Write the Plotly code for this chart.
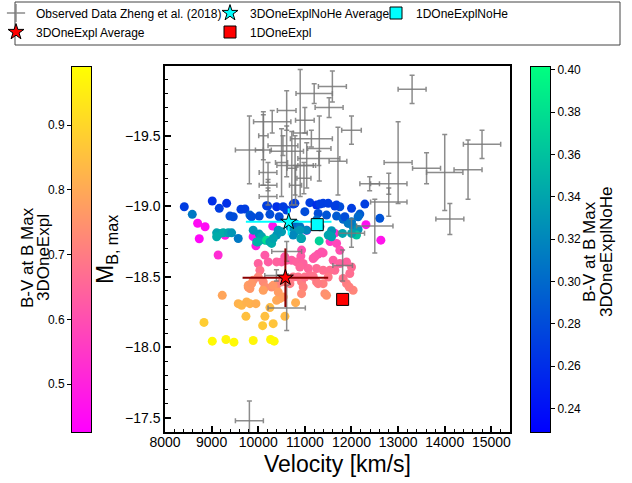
import numpy as np
import plotly.graph_objects as go

W, H = 632, 483

# ---------------- data ----------------
# Observed data (Zheng et al. 2018): velocity, M_B,max, errors
obs_v = [13300, 11590, 11200, 10900, 11520, 10610, 10300, 9810, 10110, 11000,
         12000, 11140, 11310, 10530, 10610, 11710, 11040, 10210, 10210, 10210,
         10800, 10980, 13000, 12800, 12800, 13610, 14000, 14500, 14800, 14110,
         12500, 12000, 11810, 10610, 10390, 10610, 9810, 11300, 10790, 10500,
         10720, 12390, 10110]
obs_m = [-19.83, -19.85, -19.80, -19.52, -19.70, -19.68, -19.60, -19.40, -19.40, -19.61,
         -19.54, -19.48, -19.41, -19.43, -19.39, -19.32, -19.29, -19.24, -19.15, -19.07,
         -19.15, -19.20, -19.31, -19.16, -19.03, -19.27, -19.24, -19.26, -19.44, -18.91,
         -18.86, -18.81, -18.58, -18.68, -18.51, -18.28, -17.48, -19.34, -19.29, -19.31,
         -19.27, -19.16, -19.50]
obs_verr = [300, 300, 390, 150, 300, 200, 400, 300, 170, 200,
            210, 450, 250, 320, 360, 190, 190, 190, 190, 190,
            130, 150, 300, 390, 390, 300, 390, 300, 400, 300,
            390, 280, 210, 320, 250, 400, 300, 450, 390, 130,
            100, 210, 100]
obs_merr = [0.10, 0.11, 0.07, 0.45, 0.07, 0.14, 0.08, 0.24, 0.25, 0.09,
            0.10, 0.06, 0.23, 0.07, 0.18, 0.24, 0.16, 0.07, 0.04, 0.06,
            0.14, 0.11, 0.29, 0.075, 0.10, 0.11, 0.27, 0.21, 0.10, 0.11,
            0.19, 0.10, 0.11, 0.07, 0.04, 0.16, 0.14, 0.05, 0.21, 0.24,
            0.26, 0.05, 0.17]

# 3DOneExpl models: velocity, M_B,max, B-V at B max
he_v = [8700, 8860, 8735, 9140, 9290, 9890, 9950, 10310, 11040, 11640, 12310, 12630, 11540,
        10930, 10915, 10570, 10500, 10143, 10214, 10000, 10394, 10608, 10715, 10822, 11071,
        11251, 11178, 11285, 11392, 11680, 11750, 11607, 11750, 11894, 12001, 11964, 11821,
        11643, 11536, 11392, 10964, 10893, 10036, 10000, 9892, 9785, 9822, 10107, 10143,
        10287, 10394, 10501, 10679, 10750, 10857, 10929, 10964, 11000, 11107, 11251, 11392,
        11429, 11465, 10929, 11894, 12035, 11950, 11214, 11358, 11178, 11285, 11500,
        9228, 9571, 9644, 9751, 9822, 9950, 9736, 10250, 10143, 10321, 10094, 10394, 10464,
        10572, 10801, 8836, 10107, 10321, 10429, 10536, 9786, 9858,
        9014, 9307, 9479, 9892, 10265, 10342]
he_m = [-18.88, -18.855, -18.77, -18.655, -18.795, -18.785, -18.72, -18.86, -18.83, -18.81, -18.87, -18.76, -18.75,
        -18.69, -18.647, -18.642, -18.606, -18.654, -18.606, -18.595, -18.606, -18.618, -18.618, -18.606, -18.559,
        -18.559, -18.630, -18.661, -18.670, -18.737, -18.689, -18.618, -18.595, -18.606, -18.570, -18.524, -18.488,
        -18.547, -18.547, -18.547, -18.595, -18.570, -18.547, -18.499, -18.476, -18.428, -18.417, -18.464, -18.428,
        -18.428, -18.440, -18.464, -18.452, -18.499, -18.499, -18.464, -18.428, -18.499, -18.512, -18.464, -18.452,
        -18.381, -18.369, -18.381, -18.452, -18.405, -18.428, -18.642, -18.677, -18.504, -18.452, -18.499,
        -18.369, -18.310, -18.298, -18.322, -18.310, -18.310, -18.220, -18.282, -18.220, -18.168, -18.154, -18.334, -18.346,
        -18.220, -18.317, -18.177, -18.405, -18.440, -18.392, -18.358, -18.440, -18.452,
        -18.044, -18.056, -18.037, -18.049, -18.056, -18.044]
he_bv = [0.45, 0.45, 0.44, 0.52, 0.48, 0.47, 0.49, 0.47, 0.46, 0.52, 0.46, 0.47, 0.55,
         0.60, 0.62, 0.62, 0.63, 0.62, 0.63, 0.64, 0.64, 0.63, 0.63, 0.64, 0.65,
         0.66, 0.62, 0.61, 0.61, 0.58, 0.60, 0.63, 0.64, 0.64, 0.66, 0.67, 0.68,
         0.66, 0.67, 0.67, 0.64, 0.65, 0.68, 0.72, 0.74, 0.76, 0.76, 0.73, 0.74,
         0.74, 0.72, 0.71, 0.70, 0.69, 0.68, 0.70, 0.71, 0.68, 0.67, 0.70, 0.71,
         0.74, 0.75, 0.73, 0.70, 0.72, 0.71, 0.62, 0.61, 0.68, 0.70, 0.69,
         0.79, 0.82, 0.83, 0.82, 0.82, 0.81, 0.85, 0.84, 0.85, 0.86, 0.87, 0.80, 0.79,
         0.84, 0.81, 0.88, 0.78, 0.76, 0.77, 0.78, 0.77, 0.76,
         0.98, 0.97, 0.98, 0.97, 0.97, 0.98]

# 3DOneExplNoHe models
nohe_v = [8414, 8585, 9014, 9164, 9322, 9393, 9464, 9629, 9714, 9822, 10021, 10201, 10250, 10394,
          10535, 10449, 9108, 9179, 9249, 9357, 9429, 9108, 9571, 9892, 10021, 10072, 10143, 9999,
          10179, 10250, 10287, 10394, 10501, 10679, 10786, 10786, 11107, 11251, 11322, 11392, 11500,
          11680, 11750, 12001, 12286, 11000, 11285, 11465, 11680, 12179, 12142, 12607, 10786, 10893,
          11037, 11821, 11928, 12001, 12035, 12142, 11572, 11500, 11572, 11808, 10749, 10914, 11307,
          12108, 12001, 10608, 10750, 10179, 9858, 10893, 10929, 11251, 11322, 11857, 11643, 10321,
          10428, 9965, 11964]
nohe_m = [-18.997, -18.943, -19.038, -18.986, -19.021, -18.931, -18.926, -18.979, -18.981, -18.938, -18.931, -19.002, -18.943, -18.997,
          -18.997, -18.926, -18.812, -18.808, -18.812, -18.812, -18.812, -18.784, -18.772, -18.831, -18.803, -18.784, -18.760, -18.748,
          -18.760, -18.748, -18.737, -18.796, -18.819, -18.855, -18.819, -19.021, -19.026, -19.009, -19.016, -19.021, -19.021,
          -19.009, -18.997, -18.986, -19.016, -18.962, -18.950, -18.938, -18.931, -18.945, -18.926, -18.915, -18.879, -18.855,
          -18.831, -18.908, -18.879, -18.891, -18.855, -18.836, -18.827, -18.796, -18.784, -18.808, -18.796, -18.772, -18.755,
          -18.796, -18.808, -18.974, -19.016, -19.004, -18.926, -18.831, -18.772, -18.903, -18.855, -18.926, -19.002, -18.772,
          -18.831, -18.748, -18.883]
nohe_bv = [0.27, 0.31, 0.26, 0.27, 0.26, 0.28, 0.28, 0.27, 0.27, 0.29, 0.28, 0.27, 0.28, 0.26,
           0.27, 0.28, 0.34, 0.34, 0.345, 0.34, 0.33, 0.345, 0.31, 0.33, 0.33, 0.34, 0.345, 0.35,
           0.38, 0.34, 0.345, 0.33, 0.335, 0.32, 0.33, 0.27, 0.27, 0.26, 0.27, 0.27, 0.27,
           0.27, 0.28, 0.27, 0.27, 0.28, 0.28, 0.285, 0.29, 0.29, 0.30, 0.285, 0.30, 0.31,
           0.32, 0.30, 0.31, 0.31, 0.32, 0.33, 0.33, 0.34, 0.34, 0.34, 0.32, 0.335, 0.37,
           0.36, 0.34, 0.27, 0.27, 0.27, 0.28, 0.33, 0.34, 0.30, 0.31, 0.28, 0.27, 0.34,
           0.33, 0.35, 0.31]

# averages and 1D models
avg_he = dict(v=10582, m=-18.494, verr=918, merr=0.208)
avg_nohe = dict(v=10653, m=-18.89, verr=918, merr=0.095)
oned_he = dict(v=11810, m=-18.34)
oned_nohe = dict(v=11265, m=-18.87)

# colour bar ranges
he_cmin, he_cmax = 0.426, 0.99
nohe_cmin, nohe_cmax = 0.2288, 0.4014
he_ticks = [0.5, 0.6, 0.7, 0.8, 0.9]
nohe_ticks = [0.24, 0.26, 0.28, 0.30, 0.32, 0.34, 0.36, 0.38, 0.40]

spring = [[0, '#ff00ff'], [1, '#ffff00']]
winter = [[0, '#0000ff'], [1, '#00ff80']]

FONT = 'Liberation Sans, Arial, sans-serif'
GRAY = 'rgba(120,120,120,0.85)'

def pxx(p):
    return p / W

def pxy(p):
    return 1 - p / H

fig = go.Figure()

# model scatter points
fig.add_trace(go.Scatter(x=he_v, y=he_m, mode='markers', showlegend=False, hoverinfo='skip',
                         marker=dict(size=9, color=he_bv, colorscale=spring, cmin=he_cmin, cmax=he_cmax,
                                     line=dict(width=0))))
fig.add_trace(go.Scatter(x=nohe_v, y=nohe_m, mode='markers', showlegend=False, hoverinfo='skip',
                         marker=dict(size=9, color=nohe_bv, colorscale=winter, cmin=nohe_cmin, cmax=nohe_cmax,
                                     line=dict(width=0))))

# observed with error bars
fig.add_trace(go.Scatter(x=obs_v, y=obs_m, mode='markers', showlegend=False, hoverinfo='skip',
                         marker=dict(size=1, color='rgba(0,0,0,0)'),
                         error_x=dict(type='data', array=obs_verr, color=GRAY, thickness=1.5, width=2.5),
                         error_y=dict(type='data', array=obs_merr, color=GRAY, thickness=1.5, width=2.5)))
# legend entry for observed
fig.add_trace(go.Scatter(x=[None], y=[None], mode='markers', name='Observed Data Zheng et al. (2018)',
                         legend='legend',
                         marker=dict(symbol='cross-thin-open', size=13, color=GRAY, line=dict(color=GRAY, width=1.5))))

# averages
fig.add_trace(go.Scatter(x=[avg_he['v']], y=[avg_he['m']], mode='markers', name='3DOneExpl Average',
                         legend='legend',
                         error_x=dict(type='data', array=[avg_he['verr']], color='#8b0000', thickness=2, width=0),
                         error_y=dict(type='data', array=[avg_he['merr']], color='#8b0000', thickness=2, width=0),
                         marker=dict(symbol='star', size=12, color='red', line=dict(color='black', width=1))))
fig.add_trace(go.Scatter(x=[avg_nohe['v']], y=[avg_nohe['m']], mode='markers', name='3DOneExplNoHe Average',
                         legend='legend2',
                         error_x=dict(type='data', array=[avg_nohe['verr']], color='cyan', thickness=2, width=0),
                         error_y=dict(type='data', array=[avg_nohe['merr']], color='cyan', thickness=2, width=0),
                         marker=dict(symbol='star', size=12, color='cyan', line=dict(color='black', width=1))))
fig.add_trace(go.Scatter(x=[oned_he['v']], y=[oned_he['m']], mode='markers', name='1DOneExpl',
                         legend='legend2',
                         marker=dict(symbol='square', size=12, color='red', line=dict(color='black', width=1))))
fig.add_trace(go.Scatter(x=[oned_nohe['v']], y=[oned_nohe['m']], mode='markers', name='1DOneExplNoHe',
                         legend='legend3',
                         marker=dict(symbol='square', size=12, color='cyan', line=dict(color='black', width=1))))

# colour bars drawn as heatmaps on their own axes
he_grad = np.linspace(he_cmin, he_cmax, 256)
nohe_grad = np.linspace(nohe_cmin, nohe_cmax, 256)
fig.add_trace(go.Heatmap(x=[0], y=he_grad, z=[[g] for g in he_grad], colorscale=spring,
                         zmin=he_cmin, zmax=he_cmax, showscale=False, hoverinfo='skip',
                         xaxis='x2', yaxis='y2'))
fig.add_trace(go.Heatmap(x=[0], y=nohe_grad, z=[[g] for g in nohe_grad], colorscale=winter,
                         zmin=nohe_cmin, zmax=nohe_cmax, showscale=False, hoverinfo='skip',
                         xaxis='x3', yaxis='y3'))

axis_common = dict(showgrid=False, zeroline=False, showline=True, linecolor='black', linewidth=1.5,
                   mirror=True, ticks='inside', tickcolor='black', tickwidth=1.5, ticklen=6,
                   tickfont=dict(family=FONT, size=14, color='black'))

cb_x = dict(showgrid=False, zeroline=False, showline=True, linecolor='black', linewidth=1,
            mirror=True, showticklabels=False, ticks='', range=[-0.5, 0.5], fixedrange=True)
cb_y = dict(showgrid=False, zeroline=False, showline=True, linecolor='black', linewidth=1,
            mirror=True, ticks='outside', ticklen=4, tickcolor='black', tickwidth=1,
            tickfont=dict(family=FONT, size=12, color='black'), fixedrange=True)

legend_common = dict(orientation='v', bgcolor='rgba(0,0,0,0)', borderwidth=0,
                     font=dict(family=FONT, size=12, color='black'),
                     xanchor='left', yanchor='top', y=pxy(-1.5), tracegroupgap=0)


def vtext(text, x, y, size):
    return dict(text=text, x=pxx(x), y=pxy(y), xref='paper', yref='paper', textangle=-90,
                showarrow=False, font=dict(family=FONT, size=size, color='black'),
                xanchor='center', yanchor='middle')


fig.update_layout(
    width=W, height=H, margin=dict(l=0, r=0, t=0, b=0, autoexpand=False),
    paper_bgcolor='white', plot_bgcolor='white',
    font=dict(family=FONT, color='black'),
    xaxis=dict(domain=[pxx(165), pxx(510)], range=[8000, 15400], anchor='y',
               tick0=8000, dtick=1000, tickformat='d', ticklabelstandoff=-4,
               minor=dict(ticks='inside', ticklen=3.5, dtick=200, tickwidth=1.2, tickcolor='black', showgrid=False),
               **axis_common),
    yaxis=dict(domain=[pxy(432), pxy(66)], range=[-17.4, -19.995], anchor='x',
               dtick=0.5, tickformat='.1f',
               minor=dict(ticks='inside', ticklen=3.5, dtick=0.1, tickwidth=1.2, tickcolor='black', showgrid=False),
               **axis_common),
    xaxis2=dict(domain=[pxx(72), pxx(91)], anchor='y2', **cb_x),
    yaxis2=dict(domain=[pxy(432), pxy(67)], range=[he_cmin, he_cmax], anchor='x2', side='left',
                tickvals=he_ticks, ticktext=['%.1f' % t for t in he_ticks], **cb_y),
    xaxis3=dict(domain=[pxx(531), pxx(550)], anchor='y3', **cb_x),
    yaxis3=dict(domain=[pxy(432), pxy(67)], range=[nohe_cmin, nohe_cmax], anchor='x3', side='right',
                tickvals=nohe_ticks, ticktext=['%.2f' % t for t in nohe_ticks], **cb_y),
    legend=dict(x=pxx(-4), **legend_common),
    legend2=dict(x=pxx(210), **legend_common),
    legend3=dict(x=pxx(376), **legend_common),
    shapes=[dict(type='rect', xref='paper', yref='paper', x0=pxx(15), x1=pxx(620), y0=pxy(45), y1=pxy(2),
                 line=dict(color='#444444', width=1), fillcolor='rgba(0,0,0,0)', layer='above')],
    annotations=[
        dict(text='Velocity [km/s]', x=pxx(337), y=pxy(464), xref='paper', yref='paper',
             showarrow=False, font=dict(family=FONT, size=23, color='black'), xanchor='center', yanchor='middle'),
        vtext('M<sub>B, max</sub>', 106, 250, 23),
        vtext('B-V at B Max', 27, 258, 17),
        vtext('3DOneExpl', 43, 258, 17),
        vtext('B-V at B Max', 589, 252, 17),
        vtext('3DOneExplNoHe', 606, 252, 17),
    ],
)

fig.write_html('out.html')
